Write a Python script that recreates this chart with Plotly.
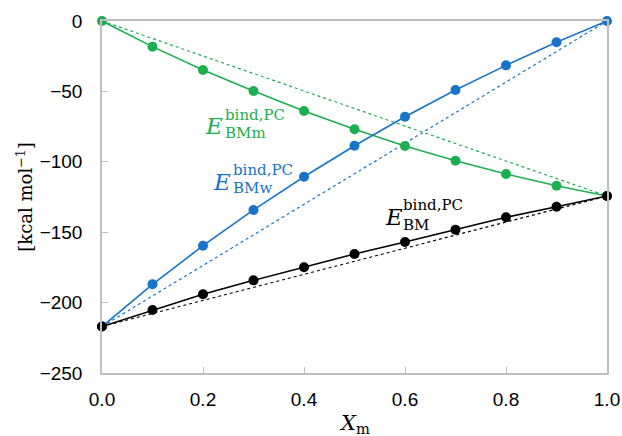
import plotly.graph_objects as go

x_vals = [0.0, 0.1, 0.2, 0.3, 0.4, 0.5, 0.6, 0.7, 0.8, 0.9, 1.0]
e_bmm = [0.0, -18.2, -34.8, -49.7, -63.9, -76.9, -88.8, -99.2, -108.7, -117.0, -124.3]
e_bmw = [-217.0, -187.0, -159.6, -134.2, -110.6, -88.6, -68.0, -49.0, -31.5, -15.1, 0.0]
e_bm = [-217.0, -205.3, -194.1, -184.2, -174.9, -165.5, -157.0, -148.2, -139.4, -131.9, -124.3]

x_ends = [0.0, 1.0]
bmm_ideal = [0.0, -124.3]
bmw_ideal = [-217.0, 0.0]
bm_ideal = [-217.0, -124.3]

x_ticks = [0.0, 0.2, 0.4, 0.6, 0.8, 1.0]
x_tick_text = ["0.0", "0.2", "0.4", "0.6", "0.8", "1.0"]
y_ticks = [0, -50, -100, -150, -200, -250]

GREEN = "#1DAE50"
BLUE = "#1874C8"
BLACK = "#000000"

fig = go.Figure()
for yv, col in [(bmm_ideal, GREEN), (bmw_ideal, BLUE), (bm_ideal, BLACK)]:
    fig.add_trace(go.Scatter(x=x_ends, y=yv, mode="lines",
                             line=dict(color=col, width=1.2, dash="3px,3px"),
                             showlegend=False, hoverinfo="skip", cliponaxis=False))
for yv, col in [(e_bmm, GREEN), (e_bmw, BLUE), (e_bm, BLACK)]:
    fig.add_trace(go.Scatter(x=x_vals, y=yv, mode="lines+markers",
                             line=dict(color=col, width=1.6),
                             marker=dict(color=col, size=10),
                             showlegend=False, cliponaxis=False))

SERIF = "DejaVu Serif"
ann = []
def label(xe, ye, xs, ysup, ysub, sup, sub, col):
    ann.append(dict(x=xe, y=ye, xref="x", yref="y", text="<i>E</i>", showarrow=False,
                    xanchor="left", yanchor="middle", font=dict(family=SERIF, size=23, color=col)))
    ann.append(dict(x=xs, y=ysup, xref="x", yref="y", text=sup, showarrow=False,
                    xanchor="left", yanchor="middle", borderpad=0,
                    font=dict(family=SERIF, size=15, color=col)))
    ann.append(dict(x=xs, y=ysub, xref="x", yref="y", text=sub, showarrow=False,
                    xanchor="left", yanchor="middle", borderpad=0,
                    font=dict(family=SERIF, size=15, color=col)))

label(0.200, -74.5, 0.242, -66.5, -79.5, "bind,PC", "BMm", GREEN)
label(0.216, -114.0, 0.258, -105.5, -118.5, "bind,PC", "BMw", BLUE)
label(0.556, -139.5, 0.594, -130.5, -145.0, "bind,PC", "BM", BLACK)

ann.append(dict(x=0.5, y=-0.145, xref="paper", yref="paper",
                text="<i>X</i><sub>m</sub>", showarrow=False,
                xanchor="center", yanchor="middle",
                font=dict(family=SERIF, size=21, color="#000")))
ann.append(dict(x=-0.153, y=0.5, xref="paper", yref="paper",
                text="[kcal mol<sup>−1</sup>]", showarrow=False, textangle=-90,
                xanchor="center", yanchor="middle",
                font=dict(family=SERIF, size=18, color="#000")))

AX = "#BFBFBF"
fig.update_layout(
    width=622, height=436,
    margin=dict(l=102, r=15, t=21, b=63),
    plot_bgcolor="white", paper_bgcolor="white",
    font=dict(family="Liberation Sans, Arial", size=19, color="#000"),
    annotations=ann,
    xaxis=dict(range=[0, 1], tickvals=x_ticks, ticktext=x_tick_text, automargin=False,
               showgrid=False, zeroline=False, showline=True, linecolor=AX, linewidth=1.5,
               mirror=True, ticks="inside", ticklen=6, tickcolor=AX, tickwidth=1.2,
               ticklabelstandoff=8, tickfont=dict(size=19)),
    yaxis=dict(range=[-250, 0], tickvals=y_ticks, automargin=False,
               showgrid=False, zeroline=False, showline=True, linecolor=AX, linewidth=1.5,
               mirror=True, ticks="inside", ticklen=6, tickcolor=AX, tickwidth=1.2,
               ticklabelstandoff=14, tickfont=dict(size=19)),
)
fig.write_html("out.html")
